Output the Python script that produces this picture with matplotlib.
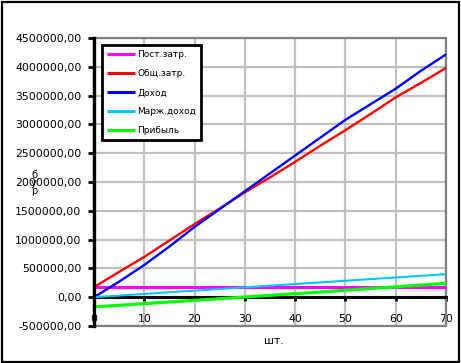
import matplotlib
matplotlib.use("Agg")
import matplotlib.pyplot as plt
from matplotlib.patches import Rectangle
from matplotlib.ticker import FuncFormatter, MultipleLocator

# объём, шт.
units = [0, 5, 10, 15, 20, 25, 30, 35, 40, 45, 50, 55, 60, 65, 70]

fixed_costs = [175000, 175000, 175000, 175000, 175000, 175000, 175000, 175000,
               175000, 175000, 175000, 175000, 175000, 175000, 175000]
total_costs = [175000, 440000, 700000, 985000, 1270000, 1540000, 1820000, 2080000,
               2350000, 2630000, 2900000, 3180000, 3470000, 3720000, 3980000]
revenue = [0, 270000, 560000, 880000, 1220000, 1530000, 1840000, 2150000,
           2460000, 2770000, 3080000, 3350000, 3620000, 3930000, 4215000]
margin_income = [0, 28000, 57000, 86000, 114000, 143000, 171000, 200000,
                 229000, 257000, 286000, 314000, 343000, 371000, 400000]
profit = [-168000, -140000, -112000, -83000, -55000, -26000, 3000, 32000,
          61000, 90000, 120000, 150000, 180000, 210000, 240000]

series = [
    ("Пост.затр.", fixed_costs, "#FF00FF", 2.2),
    ("Общ.затр.", total_costs, "#FF0000", 1.7),
    ("Доход", revenue, "#0000FF", 1.7),
    ("Марж.доход", margin_income, "#00C8FF", 1.5),
    ("Прибыль", profit, "#00FF00", 2.3),
]

plt.rcParams["font.family"] = ["DejaVu Sans"]
plt.rcParams["font.size"] = 7.8

fig = plt.figure(figsize=(4.61, 3.63), dpi=100)
ax = fig.add_axes([94 / 461, 1 - 326 / 363, 352 / 461, 288 / 363])

for name, vals, col, lw in series:
    ax.plot(units, vals, color=col, lw=lw, label=name, solid_capstyle="butt", zorder=3)

ax.set_xlim(0, 70)
ax.set_ylim(-500000, 4500000)
ax.xaxis.set_major_locator(MultipleLocator(10))
ax.yaxis.set_major_locator(MultipleLocator(500000))
ax.yaxis.set_major_formatter(FuncFormatter(lambda v, p: f"{v:.2f}".replace(".", ",")))

ax.grid(True, color="#C0C0C0", lw=1.6, zorder=0)
ax.set_axisbelow(True)

# рамка области построения
for s in ("top", "right"):
    ax.spines[s].set_visible(False)
ax.add_patch(Rectangle((0, 0), 1, 1, transform=ax.transAxes, fill=False,
                       edgecolor="#808080", lw=1.6, clip_on=False, zorder=1))
ax.spines["bottom"].set_position(("data", 0))
ax.spines["bottom"].set_color("black")
ax.spines["bottom"].set_linewidth(2.2)
ax.spines["bottom"].set_zorder(2)
ax.spines["left"].set_color("black")
ax.spines["left"].set_linewidth(2.4)
ax.spines["left"].set_zorder(4)

ax.tick_params(axis="x", direction="out", length=3, width=2, pad=9, labelsize=7.8)
ax.tick_params(axis="y", direction="out", length=4, width=2, pad=5, labelsize=7.8)

ax.set_xlabel("шт.")
ax.xaxis.set_label_coords(0.51, -0.035)
fig.text(34 / 461, 1 - 183 / 363, "б\nу\nр", ha="center", va="center",
         fontsize=7, linespacing=0.8, zorder=10)

leg = ax.legend(loc="upper left", bbox_to_anchor=(8 / 352, 1 - 7 / 288),
                frameon=True, fancybox=False, edgecolor="black", framealpha=1,
                handlelength=3.1, handletextpad=0.25, labelspacing=1.12,
                borderpad=0.55, borderaxespad=0, fontsize=6.5)
leg.get_frame().set_linewidth(2)
for h in leg.get_lines():
    h.set_linewidth(2.2)

# внешняя рамка диаграммы
fig.add_artist(Rectangle((1.5 / 461, 1.5 / 363), 457 / 461, 359.5 / 363,
                         transform=fig.transFigure, fill=False,
                         edgecolor="black", lw=1.6))

fig.savefig("out.png", dpi=100)
